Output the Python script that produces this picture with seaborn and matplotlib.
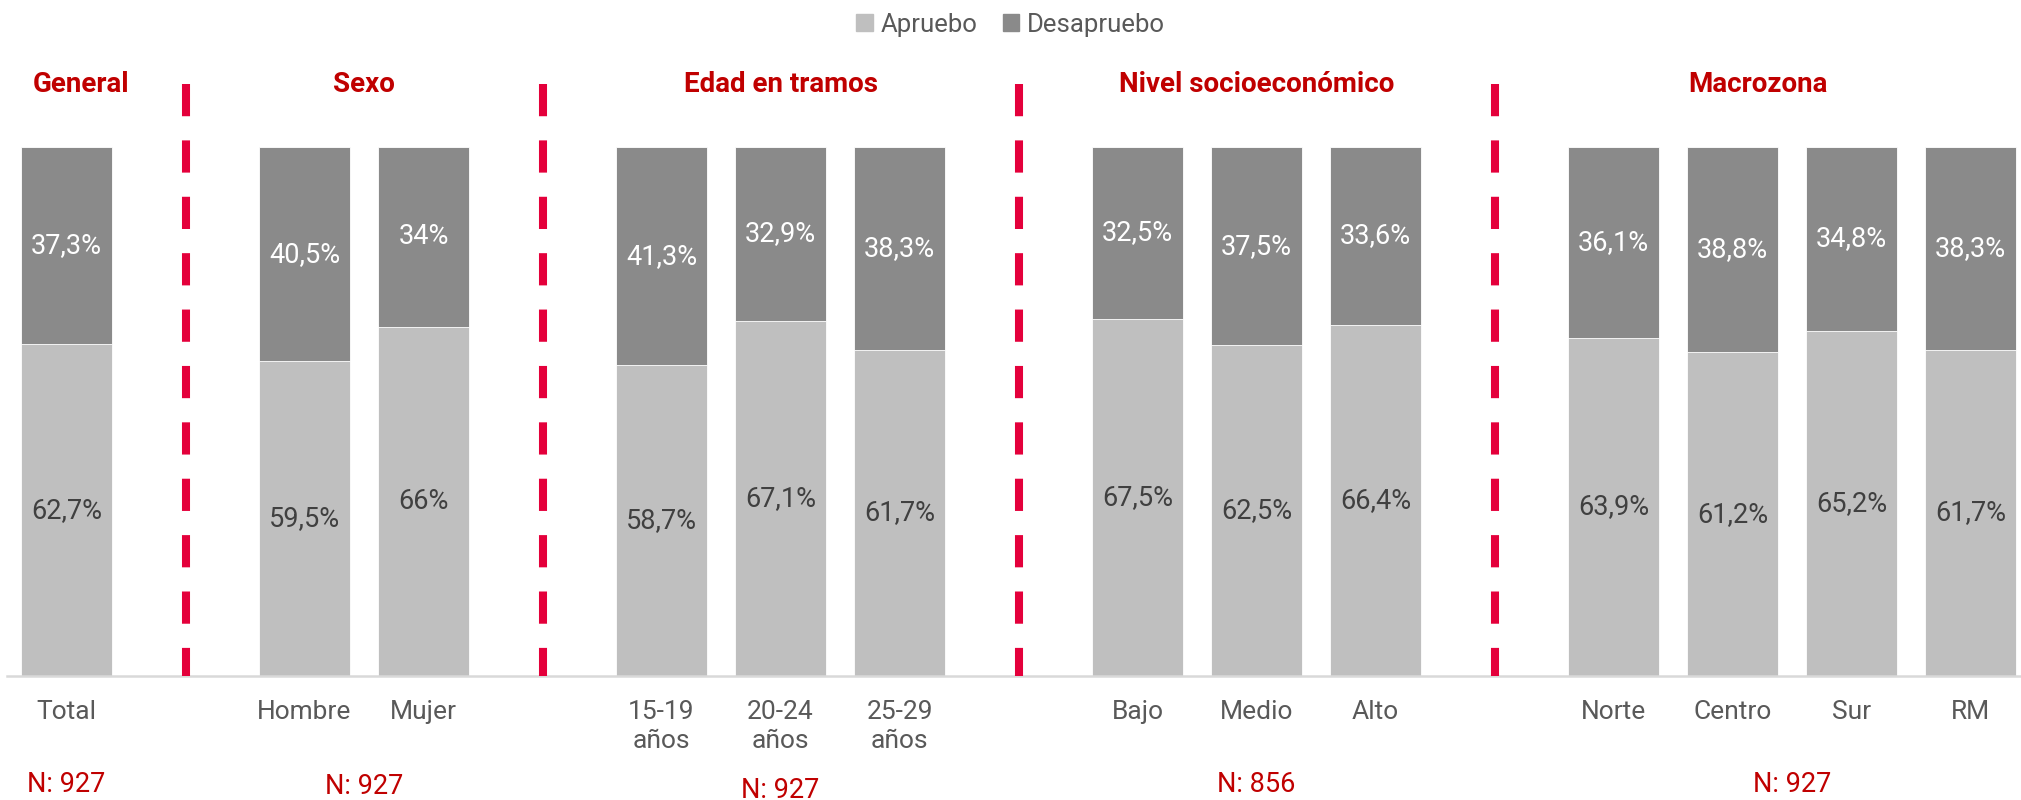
import numpy as np
import pandas as pd
import matplotlib
matplotlib.use("Agg")
import matplotlib.pyplot as plt
import matplotlib.transforms as mtransforms
from matplotlib.patches import Patch
import seaborn as sns

# datos
grupos = ['General', 'Sexo', 'Edad en tramos', 'Nivel socioeconómico', 'Macrozona']
tamano_grupo = [1, 2, 3, 3, 4]
n_grupo = [927, 927, 927, 856, 927]
categorias = ['Total', 'Hombre', 'Mujer',
              '15-19\naños', '20-24\naños', '25-29\naños',
              'Bajo', 'Medio', 'Alto',
              'Norte', 'Centro', 'Sur', 'RM']
apruebo = [62.7, 59.5, 66, 58.7, 67.1, 61.7, 67.5, 62.5, 66.4, 63.9, 61.2, 65.2, 61.7]
desapruebo = [37.3, 40.5, 34, 41.3, 32.9, 38.3, 32.5, 37.5, 33.6, 36.1, 38.8, 34.8, 38.3]

COL_APR = '#BFBFBF'
COL_DES = '#8A8A8A'
ROJO = '#C00000'
ROJO_LINEA = '#E4003B'
GRIS_TXT = '#595959'

# posiciones: un hueco entre grupos
pos = []
separadores = []
slot = 0
for i, t in enumerate(tamano_grupo):
    if i > 0:
        separadores.append(slot)
        slot += 1
    for _ in range(t):
        pos.append(slot)
        slot += 1

df = pd.DataFrame({'pos': pos, 'cat': categorias,
                   'Apruebo': apruebo, 'Desapruebo': desapruebo})
df['total'] = df['Apruebo'] + df['Desapruebo']

sns.set_theme(style='white')
plt.rcParams['font.family'] = ['Roboto', 'DejaVu Sans']

W, H = 2021, 800
fig = plt.figure(figsize=(W / 100, H / 100), dpi=100)
px_slot = 119
ax_left, ax_bottom, ax_top = 7, 676, 147
ax = fig.add_axes([ax_left / W, (H - ax_bottom) / H, (W - ax_left) / W, (ax_bottom - ax_top) / H])

sns.barplot(data=df, x='pos', y='total', native_scale=True, color=COL_DES,
            width=0.77, errorbar=None, saturation=1, edgecolor='white', linewidth=0.6, ax=ax)
sns.barplot(data=df, x='pos', y='Apruebo', native_scale=True, color=COL_APR,
            width=0.77, errorbar=None, saturation=1, edgecolor='white', linewidth=0.6, ax=ax)

x_min = -0.5
x_max = x_min + (W - ax_left) / px_slot
ax.set_xlim(x_min, x_max)
ax.set_ylim(0, 100)

def fmt(v):
    return f'{v:g}'.replace('.', ',') + '%'

for _, r in df.iterrows():
    ax.text(r['pos'], r['Apruebo'] / 2, fmt(r['Apruebo']), ha='center', va='center',
            fontsize=19.5, color='#404040')
    ax.text(r['pos'], r['Apruebo'] + r['Desapruebo'] / 2, fmt(r['Desapruebo']),
            ha='center', va='center', fontsize=19.5, color='white')

# separadores discontinuos
y_top_sep = (ax_bottom - 84) / (ax_bottom - ax_top) * 100
for s in separadores:
    ax.plot([s, s], [y_top_sep, 0], color=ROJO_LINEA, lw=5.8,
            linestyle=(0, (4, 3)), solid_capstyle='butt', clip_on=False, zorder=5)

# titulos de grupo y N
trans = mtransforms.blended_transform_factory(ax.transData, fig.transFigure)
limites = [-0.75] + separadores + [x_max]
n_y = [784, 786, 790, 784, 784]
idx = 0
for i, g in enumerate(grupos):
    cx = (limites[i] + limites[i + 1]) / 2
    ax.text(cx, (H - 85) / H, g, transform=trans, ha='center', va='center',
            fontsize=20, fontweight='bold', color=ROJO)
    bx = np.mean(pos[idx:idx + tamano_grupo[i]])
    idx += tamano_grupo[i]
    ax.text(bx, (H - n_y[i]) / H, f'N: {n_grupo[i]}', transform=trans, ha='center',
            va='center', fontsize=19.5, color=ROJO)

ax.set_xticks(pos)
ax.set_xticklabels(categorias, fontsize=19, color=GRIS_TXT, linespacing=1.3)
ax.tick_params(axis='x', length=0, pad=17)
ax.set_yticks([])
ax.set_xlabel('')
ax.set_ylabel('')
for sp in ['top', 'right', 'left']:
    ax.spines[sp].set_visible(False)
ax.spines['bottom'].set_color('#D9D9D9')
ax.spines['bottom'].set_linewidth(1.8)

handles = [Patch(color=COL_APR, label='Apruebo'), Patch(color=COL_DES, label='Desapruebo')]
fig.legend(handles=handles, loc='upper center', bbox_to_anchor=(0.5, 1.0), ncol=2,
           frameon=False, fontsize=18.5, handlelength=0.65, handleheight=0.65,
           handletextpad=0.3, columnspacing=1.0, labelcolor=GRIS_TXT, borderaxespad=0.1)

fig.savefig('out.png', dpi=100)
